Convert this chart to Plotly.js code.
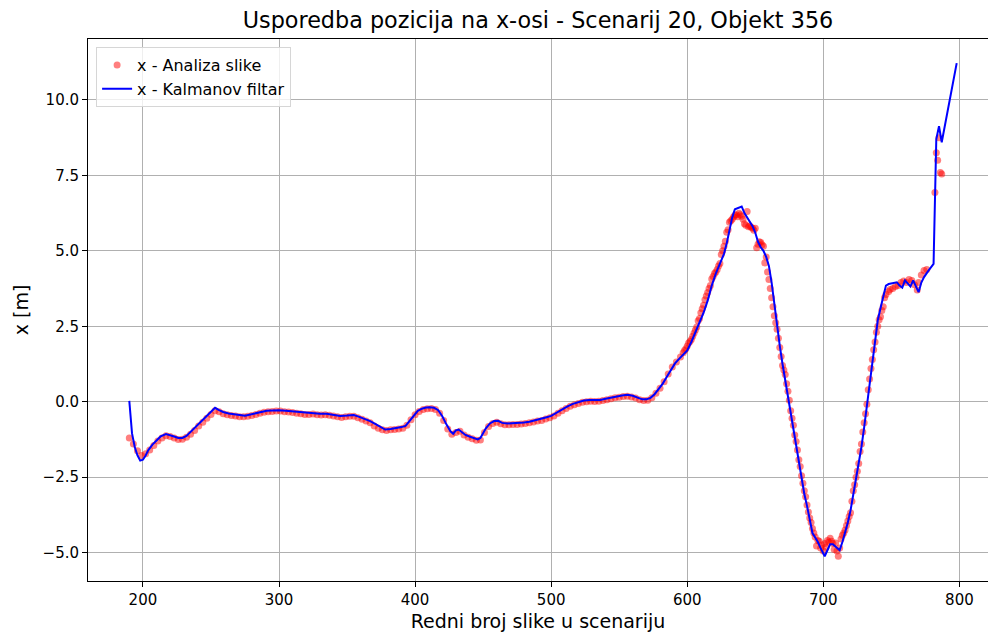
<!DOCTYPE html>
<html><head><meta charset="utf-8">
<script src="https://cdn.plot.ly/plotly-3.0.1.min.js"></script>
<style>html,body{margin:0;padding:0;background:#fff}#chart{width:988px;height:637px}</style>
</head><body><div id="chart"></div>
<script>
// Kalman filter output (blue line)
const lineFrames = [
190,192,194,196,198,200,202,204,207,210,
213,217,220,223,226,229,232,235,238,241,
244,247,250,253,256,259,263,267,271,275,
279,283,287,291,295,300,305,310,315,320,
325,330,335,340,345,350,355,359,363,367,
371,375,378,382,386,390,393,396,399,402,
405,408,411,414,417,420,423,426,428,430,
432,434,437,440,443,446,448,450,452,455,
458,461,464,468,472,476,480,484,488,492,
496,500,504,508,512,516,520,524,528,532,
536,540,544,548,552,556,560,564,567,570,
573,576,579,582,585,588,591,594,597,600,
603,606,609,612,615,618,621,624,627,629,
631,633,635,638,640,642,644,646,648,650,
652,654,656,658,660,662,664,666,668,670,
672,674,676,678,680,682,684,686,688,690,
692,694,696,698,700,701,703,705,707,709,
712,714,716,718,720,722,724,726,728,730,
732,734,736,738,740,742,744,746,748,751,
754,756,758,760,762,764,766,768,770,772,
774,777,781,783,785,787,798];
const lineX = [
0.03,-1.05,-1.5,-1.78,-1.95,-1.92,-1.78,-1.6,-1.42,-1.27,
-1.15,-1.07,-1.1,-1.15,-1.2,-1.2,-1.13,-1.0,-0.87,-0.73,
-0.6,-0.48,-0.35,-0.2,-0.28,-0.34,-0.39,-0.42,-0.44,-0.46,
-0.42,-0.38,-0.33,-0.3,-0.29,-0.28,-0.3,-0.32,-0.35,-0.38,
-0.38,-0.4,-0.4,-0.43,-0.47,-0.46,-0.44,-0.5,-0.56,-0.64,
-0.74,-0.86,-0.92,-0.9,-0.88,-0.84,-0.8,-0.62,-0.45,-0.3,
-0.23,-0.19,-0.18,-0.2,-0.28,-0.48,-0.75,-0.98,-1.06,-0.95,
-0.92,-1.0,-1.1,-1.15,-1.2,-1.25,-1.2,-1.05,-0.88,-0.72,
-0.64,-0.63,-0.7,-0.72,-0.71,-0.71,-0.69,-0.66,-0.62,-0.57,
-0.52,-0.47,-0.36,-0.24,-0.15,-0.07,-0.01,0.04,0.06,0.06,
0.06,0.1,0.14,0.18,0.21,0.23,0.2,0.13,0.08,0.08,
0.13,0.25,0.42,0.6,0.83,1.06,1.27,1.42,1.56,1.7,
1.98,2.3,2.63,2.95,3.35,3.85,4.25,4.55,4.9,5.25,
5.7,6.1,6.38,6.42,6.47,6.25,6.1,5.95,5.82,5.6,
5.3,5.12,5.0,4.8,4.5,3.95,3.2,2.5,1.85,1.25,
0.7,0.15,-0.45,-0.95,-1.45,-2.0,-2.55,-3.05,-3.45,-3.9,
-4.35,-4.5,-4.65,-4.85,-5.0,-5.12,-4.92,-4.72,-4.72,-4.8,
-4.92,-4.65,-4.35,-4.0,-3.6,-3.1,-2.6,-2.1,-1.5,-0.85,
-0.1,0.65,1.4,2.15,2.7,3.1,3.5,3.85,3.9,3.93,
3.96,3.85,3.78,4.02,3.9,3.82,4.02,3.85,3.63,3.95,
4.13,4.33,4.57,8.7,9.13,8.6,11.22];

// Image analysis measurements (red points)
const dotFrames = [
190,193,196,199,202,205,208,211,214,217,
220,223,226,229,232,235,238,241,244,247,
250,253,256,259,262,265,268,271,274,277,
280,283,286,289,292,295,298,301,304,307,
310,313,316,319,322,325,328,331,334,337,
340,343,346,349,352,355,358,361,364,367,
370,373,376,379,382,385,388,391,394,397,
400,403,406,409,412,415,418,421,424,427,
430,433,436,439,442,445,448,451,454,457,
460,463,466,469,472,475,478,481,484,487,
490,493,496,499,502,505,508,511,514,517,
520,523,526,529,532,535,538,541,544,547,
550,553,556,559,562,565,568,571,574,577,
580,583,586,589,592,595,
597,598,599,600,601,602,603,604,605,606,
607,608,609,610,611,612,613,614,615,616,
617,618,619,620,621,622,623,624,625,626,
627,628,629,630,631,632,633,634,635,636,
637,638,639,640,641,642,643,644,645,646,
647,648,649,650,651,652,653,654,655,656,
657,658,659,660,661,662,663,664,665,666,
667,668,669,670,671,672,673,674,675,676,
677,678,679,680,681,682,683,684,685,686,
687,688,689,690,691,692,693,694,695,696,
697,698,699,700,701,702,703,704,705,706,
707,708,709,710,711,712,713,714,715,716,
717,718,719,720,721,722,723,724,725,726,
727,728,729,730,731,732,733,734,735,736,
737,738,739,740,741,742,743,744,745,
746,748,749,751,753,755,757,759,761,763,
765,767,769,770,772,774,776,
782,783,784,785,786,787];
const dotX = [
-1.2,-1.4,-1.62,-1.78,-1.72,-1.6,-1.45,-1.3,-1.2,-1.13,
-1.15,-1.2,-1.25,-1.24,-1.18,-1.08,-0.95,-0.8,-0.68,-0.55,
-0.42,-0.3,-0.33,-0.4,-0.43,-0.46,-0.47,-0.5,-0.5,-0.48,
-0.46,-0.42,-0.38,-0.35,-0.33,-0.32,-0.31,-0.31,-0.33,-0.34,
-0.36,-0.38,-0.4,-0.42,-0.42,-0.41,-0.43,-0.44,-0.43,-0.45,
-0.47,-0.5,-0.52,-0.5,-0.48,-0.48,-0.53,-0.58,-0.64,-0.7,
-0.8,-0.88,-0.93,-0.95,-0.93,-0.92,-0.9,-0.88,-0.78,-0.6,
-0.43,-0.32,-0.26,-0.23,-0.22,-0.26,-0.38,-0.62,-0.9,-1.08,
-1.02,-0.98,-1.1,-1.18,-1.23,-1.28,-1.27,-1.02,-0.82,-0.72,
-0.68,-0.73,-0.76,-0.76,-0.75,-0.75,-0.74,-0.72,-0.7,-0.67,
-0.64,-0.62,-0.57,-0.53,-0.47,-0.38,-0.3,-0.22,-0.15,-0.1,
-0.06,-0.02,0.0,0.02,0.01,0.02,0.04,0.07,0.1,0.13,
0.15,0.17,0.18,0.16,0.12,0.07,0.04,0.05,0.13,0.28,
0.45,0.66,0.92,1.15,1.32,1.48,
1.62,1.7,1.76,1.85,1.95,2.0,2.06,2.17,2.28,2.38,
2.48,2.68,2.76,2.95,3.08,3.2,3.38,3.5,3.62,3.75,
3.85,4.07,4.15,4.25,4.3,4.38,4.5,4.58,4.88,5.0,
5.15,5.32,5.62,5.7,5.95,6.0,6.05,6.12,6.18,6.2,
6.13,6.25,6.2,6.15,6.05,5.9,5.85,6.3,5.8,5.82,
5.78,5.75,5.68,5.75,5.1,5.22,5.3,5.28,5.2,5.15,
4.6,4.8,4.3,4.05,3.75,3.45,3.15,2.85,2.62,2.4,
2.1,1.8,1.5,1.2,1.05,0.9,0.6,0.35,0.05,-0.3,
-0.55,-0.78,-1.1,-1.32,-1.6,-1.92,-2.15,-2.45,-2.7,-2.95,
-3.15,-3.42,-3.65,-3.85,-4.0,-4.2,-4.35,-4.48,-4.78,-4.6,
-4.62,-4.85,-4.75,-4.95,-4.7,-4.82,-4.6,-4.65,-4.52,-4.62,
-4.7,-4.9,-4.68,-4.95,-5.12,-4.85,-4.55,-4.42,-4.35,-4.25,
-4.1,-3.95,-3.8,-3.68,-3.3,-2.95,-2.75,-2.5,-2.3,-2.05,
-1.65,-1.4,-1.0,-0.7,-0.4,-0.08,0.4,0.75,1.1,1.4,
1.72,1.98,2.3,2.5,2.72,2.82,3.02,3.15,3.45,
3.55,3.65,3.72,3.75,3.82,3.85,3.95,4.0,3.95,4.05,
4.02,3.88,3.7,3.95,4.2,4.35,4.38,
6.93,8.25,8.0,8.75,7.6,7.55];

const xTickVals = [200,300,400,500,600,700,800];
const xTickText = ['200','300','400','500','600','700','800'];
const yTickVals = [-5,-2.5,0,2.5,5,7.5,10];
const yTickText = ['\u22125.0','\u22122.5','0.0','2.5','5.0','7.5','10.0'];

const titleText = 'Usporedba pozicija na x-osi - Scenarij 20, Objekt 356';
const xTitle = 'Redni broj slike u scenariju';
const yTitle = 'x [m]';
const nameDots = 'x - Analiza slike';
const nameLine = 'x - Kalmanov filtar';

const traces = [
  {type:'scatter', mode:'markers', name:nameDots, x:dotFrames, y:dotX,
   marker:{color:'red', size:7, opacity:0.5, line:{width:0}}},
  {type:'scatter', mode:'lines', name:nameLine, x:lineFrames, y:lineX,
   line:{color:'blue', width:2}}
];

const layout = {
  width:988, height:637,
  margin:{l:88, r:0, t:39, b:56, pad:0},
  paper_bgcolor:'#ffffff', plot_bgcolor:'#ffffff',
  font:{family:'DejaVu Sans, sans-serif', color:'#000000', size:15},
  title:{text:titleText, font:{size:22.3, color:'#000'}, x:0.5, xref:'paper', xanchor:'center',
         y:1-20/637, yref:'container', yanchor:'middle'},
  showlegend:true,
  legend:{x:0.009, y:0.985, xanchor:'left', yanchor:'top', bgcolor:'rgba(255,255,255,0.8)',
          bordercolor:'#d6d6d6', borderwidth:1, font:{size:16}},
  xaxis:{range:[159.65, 821.0], tickvals:xTickVals, ticktext:xTickText,
         ticks:'outside', ticklen:5, tickwidth:1, tickcolor:'#000',
         showline:true, linecolor:'#000', linewidth:1, mirror:true,
         showgrid:true, gridcolor:'#b0b0b0', gridwidth:1, zeroline:false,
         tickfont:{size:15},
         title:{text:xTitle, font:{size:19}, standoff:6}},
  yaxis:{range:[-5.94, 12.02], tickvals:yTickVals, ticktext:yTickText,
         ticks:'outside', ticklen:5, tickwidth:1, tickcolor:'#000',
         showline:true, linecolor:'#000', linewidth:1,
         showgrid:true, gridcolor:'#b0b0b0', gridwidth:1, zeroline:false,
         tickfont:{size:15},
         title:{text:yTitle, font:{size:19}, standoff:8}}
};

Plotly.newPlot('chart', traces, layout, {displayModeBar:false, staticPlot:true});
</script>
</body></html>
